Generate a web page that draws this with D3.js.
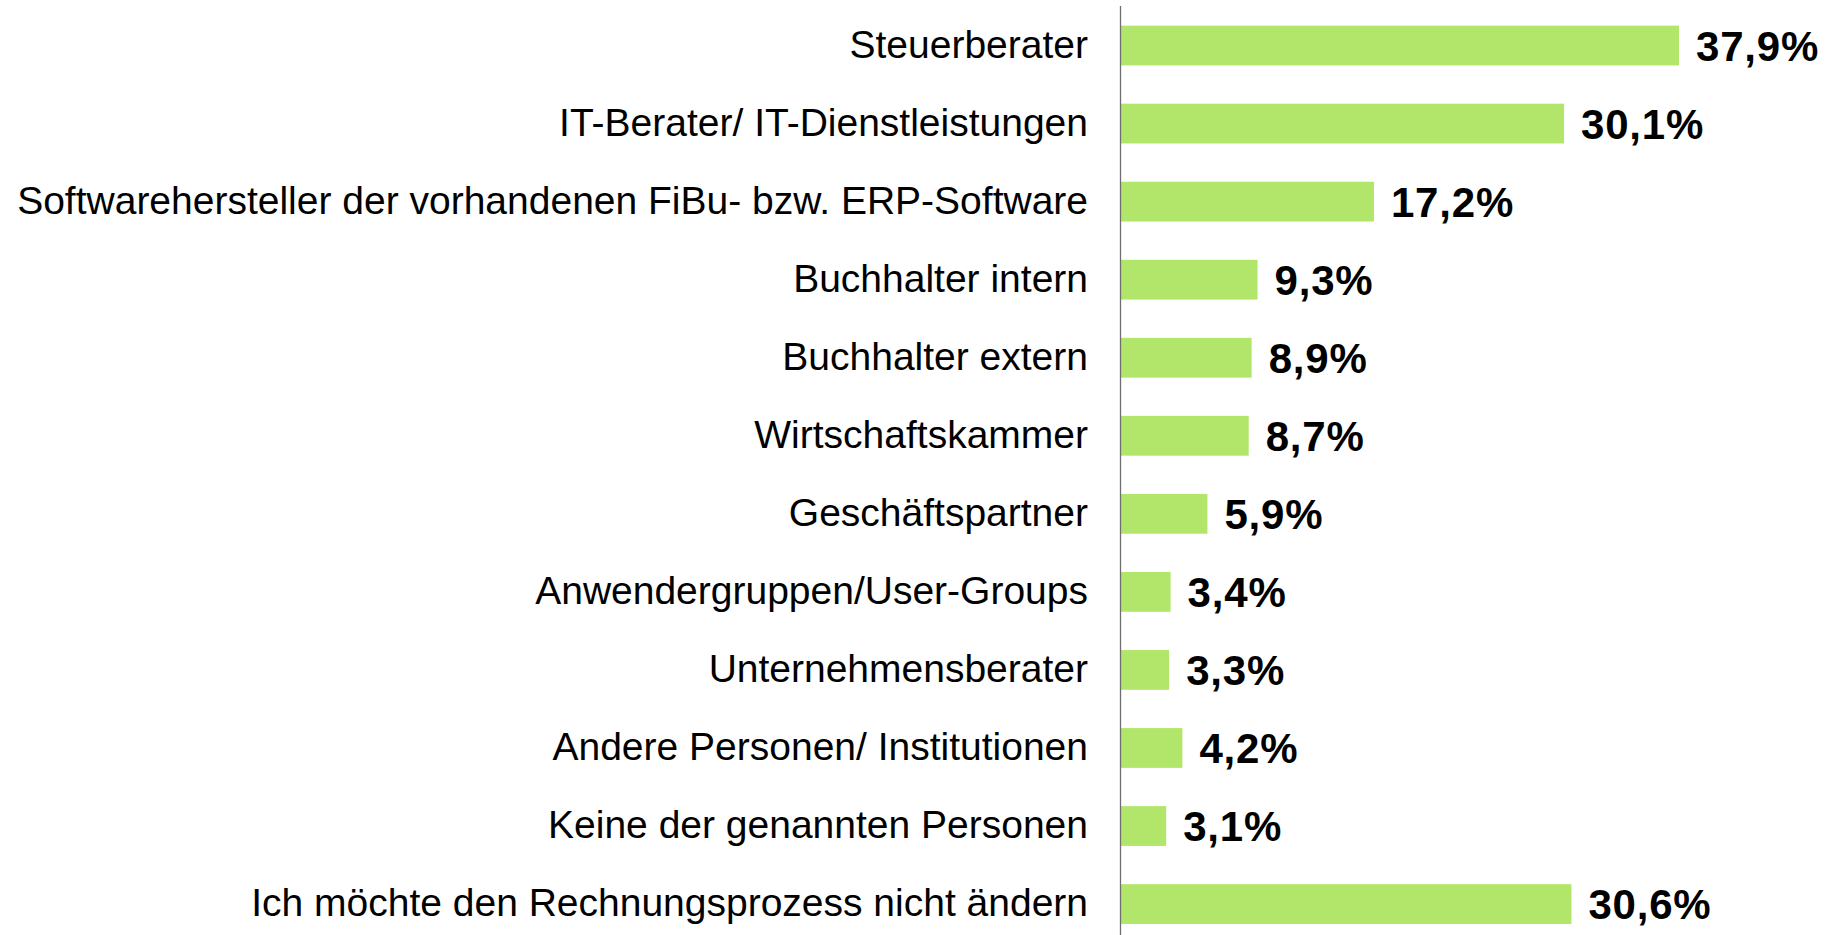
<!DOCTYPE html>
<html>
<head>
<meta charset="utf-8">
<script src="https://cdn.jsdelivr.net/npm/d3@7"></script>
<style>
  html, body { margin: 0; padding: 0; background: #fff; }
  svg { display: block; }
</style>
</head>
<body>
<svg id="chart" width="1830" height="935"></svg>
<script>
const categories = [
  "Steuerberater",
  "IT-Berater/ IT-Dienstleistungen",
  "Softwarehersteller der vorhandenen FiBu- bzw. ERP-Software",
  "Buchhalter intern",
  "Buchhalter extern",
  "Wirtschaftskammer",
  "Geschäftspartner",
  "Anwendergruppen/User-Groups",
  "Unternehmensberater",
  "Andere Personen/ Institutionen",
  "Keine der genannten Personen",
  "Ich möchte den Rechnungsprozess nicht ändern"
];
const values = [37.9, 30.1, 17.2, 9.3, 8.9, 8.7, 5.9, 3.4, 3.3, 4.2, 3.1, 30.6];
const valueLabels = ["37,9%", "30,1%", "17,2%", "9,3%", "8,9%", "8,7%", "5,9%", "3,4%", "3,3%", "4,2%", "3,1%", "30,6%"];

const svg = d3.select("#chart");
const axisX = 1120.5;

const x = d3.scaleLinear().domain([0, 37.9]).range([axisX, 1679]);
const y = d3.scaleBand()
  .domain(categories)
  .range([6.5, 943.1])
  .paddingInner(0.49)
  .paddingOuter(0.245);

const data = categories.map((c, i) => ({ c, v: values[i], l: valueLabels[i] }));

svg.append("g").selectAll("rect")
  .data(data).join("rect")
  .attr("x", x(0))
  .attr("y", d => y(d.c))
  .attr("width", d => x(d.v) - x(0))
  .attr("height", y.bandwidth())
  .attr("fill", "#b2e66b");

svg.append("g").selectAll("text")
  .data(data).join("text")
  .attr("x", 1088)
  .attr("y", d => y(d.c) + y.bandwidth() / 2)
  .attr("dy", "0.31em")
  .attr("text-anchor", "end")
  .attr("font-family", "'Liberation Sans', Arial, sans-serif")
  .attr("font-size", 39)
  .attr("fill", "#000")
  .text(d => d.c);

svg.append("g").selectAll("text")
  .data(data).join("text")
  .attr("x", d => x(d.v) + 17)
  .attr("y", d => y(d.c) + y.bandwidth() / 2)
  .attr("dy", "0.36em")
  .attr("font-family", "'Liberation Sans', Arial, sans-serif")
  .attr("font-weight", "bold")
  .attr("font-size", 42)
  .attr("letter-spacing", 0.8)
  .attr("fill", "#000")
  .text(d => d.l);

svg.append("line")
  .attr("x1", axisX).attr("x2", axisX)
  .attr("y1", 6).attr("y2", 935)
  .attr("stroke", "#6e6e6e")
  .attr("stroke-width", 1.3);
</script>
</body>
</html>
